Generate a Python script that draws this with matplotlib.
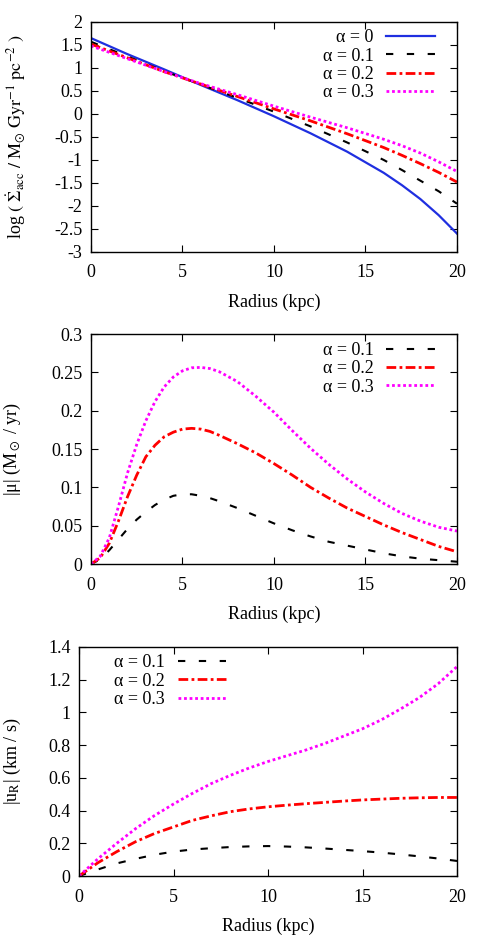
import numpy as np
import matplotlib
matplotlib.use('Agg')
import matplotlib.pyplot as plt
from matplotlib.ticker import FormatStrFormatter

plt.rcParams.update({'font.family': 'Liberation Serif', 'mathtext.fontset': 'stix',
                     'font.size': 13, 'axes.unicode_minus': False})

# top panel: log accretion rate
r_top = [0, 2, 4, 6, 8, 10, 12, 14, 16, 17, 18, 19, 20]
acc_a0 = [1.65, 1.30, 0.97, 0.63, 0.30, -0.05, -0.42, -0.82, -1.28, -1.55, -1.85, -2.20, -2.60]
acc_a1 = [1.57, 1.25, 0.93, 0.64, 0.35, 0.05, -0.27, -0.62, -1.00, -1.22, -1.45, -1.68, -1.95]
acc_a2 = [1.52, 1.22, 0.92, 0.65, 0.38, 0.11, -0.15, -0.43, -0.73, -0.90, -1.08, -1.27, -1.48]
acc_a3 = [1.48, 1.20, 0.92, 0.66, 0.42, 0.17, -0.07, -0.30, -0.55, -0.69, -0.85, -1.04, -1.25]

# middle panel: |mu|
r_mid = [0, 0.5, 1, 1.5, 2, 2.5, 3, 3.5, 4, 4.5, 5, 5.5, 6, 6.5, 7, 8, 9, 10,
         11, 12, 13, 14, 15, 16, 17, 18, 19, 20]
mu_a1 = [0, 0.006, 0.018, 0.032, 0.046, 0.058, 0.068, 0.077, 0.084, 0.089, 0.091, 0.091, 0.089, 0.086,
         0.082, 0.073, 0.063, 0.053, 0.044, 0.036, 0.029, 0.024, 0.019, 0.014, 0.010, 0.007, 0.005, 0.003]
mu_a2 = [0, 0.008, 0.027, 0.056, 0.088, 0.116, 0.140, 0.155, 0.166, 0.172, 0.176, 0.177, 0.176, 0.173,
         0.168, 0.157, 0.145, 0.131, 0.116, 0.100, 0.086, 0.073, 0.062, 0.051, 0.041, 0.032, 0.023, 0.016]
mu_a3 = [0, 0.010, 0.034, 0.075, 0.119, 0.156, 0.187, 0.212, 0.231, 0.244, 0.252, 0.256, 0.2565, 0.255,
         0.251, 0.238, 0.219, 0.198, 0.174, 0.151, 0.130, 0.111, 0.094, 0.079, 0.066, 0.056, 0.048, 0.043]

# bottom panel: |u_R|
r_bot = [0, 1, 2, 3, 4, 5, 6, 7, 8, 9, 10, 11, 12, 13, 14, 15, 16, 17, 18, 19, 20]
ur_a1 = [0, 0.04, 0.077, 0.105, 0.13, 0.149, 0.162, 0.17, 0.177, 0.181, 0.183, 0.18, 0.175,
         0.168, 0.16, 0.152, 0.143, 0.132, 0.12, 0.107, 0.092]
ur_a2 = [0, 0.081, 0.149, 0.21, 0.26, 0.30, 0.34, 0.368, 0.393, 0.41, 0.423, 0.433, 0.442,
         0.45, 0.458, 0.465, 0.47, 0.475, 0.478, 0.48, 0.48]
ur_a3 = [0, 0.105, 0.20, 0.29, 0.37, 0.44, 0.505, 0.565, 0.615, 0.66, 0.70, 0.735, 0.77,
         0.81, 0.855, 0.90, 0.955, 1.02, 1.09, 1.175, 1.28]

sty0 = dict(color='#1f2fe0', lw=1.6, ls='-')
sty1 = dict(color='black', lw=1.5, ls=(0, (3.5, 6.5)))
sty2 = dict(color='red', lw=2.0, ls=(0, (3.5, 1.2, 1.0, 1.2)))
sty3 = dict(color='#ff00ff', lw=2.0, ls=(0, (1, 1)))

fig = plt.figure(figsize=(4.91, 9.36), dpi=100)
ax1 = fig.add_axes([0.1853, 0.7308, 0.7454, 0.2457])
ax2 = fig.add_axes([0.1853, 0.3974, 0.7454, 0.2457])
ax3 = fig.add_axes([0.1609, 0.0641, 0.7699, 0.2447])

ax1.plot(r_top, acc_a0, label='α = 0', **sty0)
ax1.plot(r_top, acc_a1, label='α = 0.1', **sty1)
ax1.plot(r_top, acc_a2, label='α = 0.2', **sty2)
ax1.plot(r_top, acc_a3, label='α = 0.3', **sty3)
ax1.set_ylim(-3, 2)
ax1.set_yticks(np.arange(-3, 2.01, 0.5))
ax1.set_ylabel(r'log $(\ \dot{\Sigma}_{\rm acc}\ /\ {\rm M}_{\odot}\ {\rm Gyr}^{-1}\ {\rm pc}^{-2}\ )$')
ax1.yaxis.set_label_coords(-0.172, 0.5)

ax2.plot(r_mid, mu_a1, label='α = 0.1', **sty1)
ax2.plot(r_mid, mu_a2, label='α = 0.2', **sty2)
ax2.plot(r_mid, mu_a3, label='α = 0.3', **sty3)
ax2.set_ylim(0, 0.3)
ax2.set_yticks(np.arange(0, 0.301, 0.05))
ax2.set_ylabel(r'|μ| (M$_\odot$ / yr)')
ax2.yaxis.set_label_coords(-0.186, 0.5)

ax3.plot(r_bot, ur_a1, label='α = 0.1', **sty1)
ax3.plot(r_bot, ur_a2, label='α = 0.2', **sty2)
ax3.plot(r_bot, ur_a3, label='α = 0.3', **sty3)
ax3.set_ylim(0, 1.4)
ax3.set_yticks(np.arange(0, 1.401, 0.2))
ax3.set_ylabel(r'|u$_{\rm R}$| (km / s)')
ax3.yaxis.set_label_coords(-0.148, 0.5)

leg_kw = dict(frameon=False, markerfirst=False, handlelength=2.7, handletextpad=0.7,
              labelspacing=0.07, borderpad=0, borderaxespad=0, fontsize=13)
ax1.legend(loc='upper right', bbox_to_anchor=(0.94, 0.968), **leg_kw)
ax2.legend(loc='upper right', bbox_to_anchor=(0.94, 0.965), **leg_kw)
ax3.legend(loc='upper left', bbox_to_anchor=(0.093, 0.968), **leg_kw)

for ax in (ax1, ax2, ax3):
    ax.set_xlim(0, 20)
    ax.set_xticks([0, 5, 10, 15, 20])
    ax.set_xlabel('Radius (kpc)')
    ax.xaxis.set_label_coords(0.5, -0.18)
    ax.yaxis.set_major_formatter(FormatStrFormatter('%g'))
    ax.tick_params(direction='in', top=True, right=True, length=5, width=0.8, pad=6, labelsize=13)
    ax.tick_params(axis='x', pad=9)
    for s in ax.spines.values():
        s.set_linewidth(1.0)

fig.savefig('out.png', dpi=100)
